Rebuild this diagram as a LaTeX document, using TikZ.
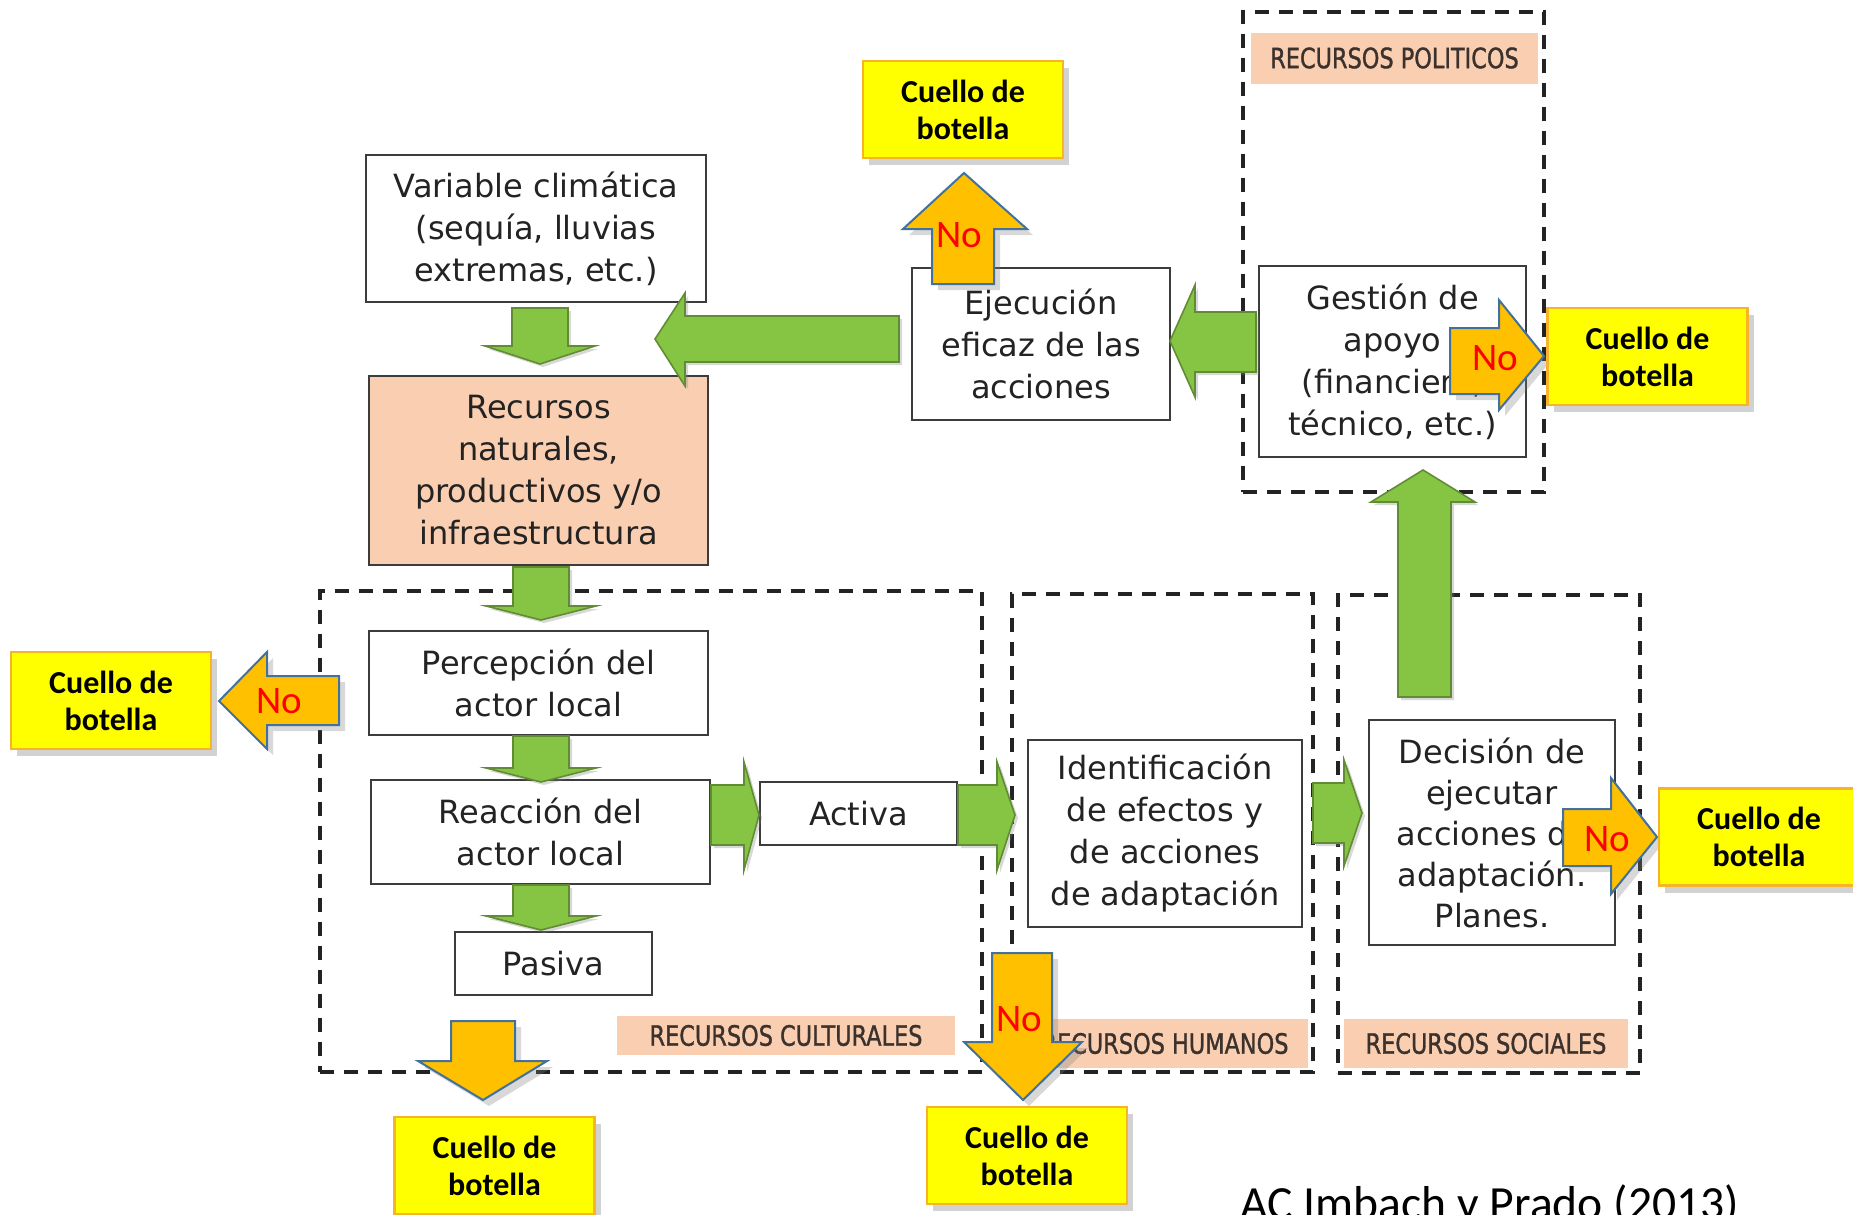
\documentclass[tikz,border=0pt]{standalone}
\usepackage{fontspec}
\setmainfont{DejaVu Sans}
\newfontfamily\bandfont{DejaVu Sans}[FakeStretch=0.8,FakeBold=1.2]
\newfontfamily\calfont{Carlito}
\usetikzlibrary{shadows}
\definecolor{boxgray}{RGB}{60,60,60}
\definecolor{txtgray}{RGB}{35,35,35}
\definecolor{dashgray}{RGB}{35,35,35}
\definecolor{bandpeach}{RGB}{250,206,176}
\definecolor{bandtext}{RGB}{60,50,45}
\definecolor{agreen}{RGB}{134,197,68}
\definecolor{agreendark}{RGB}{98,140,52}
\definecolor{aorange}{RGB}{255,192,0}
\definecolor{ablue}{RGB}{65,113,156}
\definecolor{cyellow}{RGB}{255,255,0}
\definecolor{cborder}{RGB}{247,180,40}
\begin{document}
\begin{tikzpicture}[x=0.5pt,y=-0.5pt,
  box/.style={draw=boxgray, line width=1.3pt, fill=white, inner sep=0pt, align=center,
    text=txtgray, font=\fontsize{16}{21}\selectfont},
  cuello/.style={draw=cborder, line width=1.2pt, fill=cyellow, inner sep=0pt,
    minimum width=100pt, minimum height=48.5pt, align=center,
    font=\calfont\bfseries\fontsize{16}{18.5}\selectfont,
    drop shadow={shadow xshift=3pt, shadow yshift=-3.5pt, opacity=0.35}},
  dashbox/.style={draw=dashgray, line width=2pt, dash pattern=on 7pt off 5pt, inner sep=0pt},
  band/.style={fill=bandpeach, inner sep=0pt, font=\bandfont\fontsize{14}{14}\selectfont, text=bandtext},
  garrow/.style={fill=agreen, draw=agreendark, line width=0.8pt, line join=miter,
    drop shadow={shadow xshift=1.5pt, shadow yshift=-1.5pt, opacity=0.3}},
  oarrow/.style={fill=aorange, draw=ablue, line width=1pt, line join=miter,
    drop shadow={shadow xshift=3pt, shadow yshift=-3pt, opacity=0.3}},
  notext/.style={text=red, font=\calfont\fontsize{19.5}{19.5}\selectfont, inner sep=0pt}
]
\useasboundingbox[fill=white] (0,0) rectangle (1853,1215);

% resource groups
\node[dashbox, minimum width=331pt, minimum height=240.5pt] (gcult) at (651,831.5) {};
\node[dashbox, minimum width=150.5pt, minimum height=239pt] (ghum) at (1162.5,833) {};
\node[dashbox, minimum width=151pt, minimum height=239pt] (gsoc) at (1489,834) {};
\node[dashbox, minimum width=150.5pt, minimum height=240pt] (gpol) at (1393.5,252) {};

\node[band, minimum width=143.5pt, minimum height=25.5pt] (bpol) at (1394.5,58) {RECURSOS POLITICOS};
\node[band, minimum width=169pt, minimum height=19.5pt] (bcult) at (786,1035.5) {RECURSOS CULTURALES};
\node[band, minimum width=143pt, minimum height=24.5pt] (bhum) at (1165,1043.5) {RECURSOS HUMANOS};
\node[band, minimum width=142pt, minimum height=24.5pt] (bsoc) at (1486,1043.5) {RECURSOS SOCIALES};

% main boxes
\node[box, minimum width=170pt, minimum height=73.5pt] (var) at (536,228.5)
  {Variable climática\\(sequía, lluvias\\extremas, etc.)};
\node[box, fill=bandpeach, minimum width=169.5pt, minimum height=94.5pt] (rec) at (538.5,470.5)
  {Recursos\\naturales,\\productivos y/o\\infraestructura};
\node[box, minimum width=129pt, minimum height=76pt] (eje) at (1041,344)
  {Ejecución\\eficaz de las\\acciones};
\node[box, minimum width=133.5pt, minimum height=95.5pt] (ges) at (1392.5,361.5)
  {Gestión de\\apoyo\\(financiero,\\técnico, etc.)};
\node[box, minimum width=169.5pt, minimum height=52pt] (per) at (538.5,683)
  {Percepción del\\actor local};
\node[box, minimum width=169.5pt, minimum height=52pt] (rea) at (540.5,832)
  {Reacción del\\actor local};
\node[box, minimum width=98.5pt, minimum height=31.5pt] (pas) at (553.5,963.5) {Pasiva};
\node[box, minimum width=98.5pt, minimum height=31.5pt] (act) at (858.5,813.5) {Activa};
\node[box, minimum width=137pt, minimum height=93.5pt] (ide) at (1165,833.5)
  {Identificación\\de efectos y\\de acciones\\de adaptación};
\node[box, font=\fontsize{16}{20.5}\selectfont, minimum width=123pt, minimum height=112.5pt] (dec) at (1492,832.5)
  {Decisión de\\ejecutar\\acciones de\\adaptación.\\Planes.};

% green block arrows
\draw[garrow] (512,308) -- (568,308) -- (568,346) -- (595,346) -- (540,364) -- (485,346) -- (512,346) -- cycle;
\draw[garrow] (513,567) -- (569,567) -- (569,606) -- (596,606) -- (541,620) -- (486,606) -- (513,606) -- cycle;
\draw[garrow] (513,736) -- (569,736) -- (569,768) -- (596,768) -- (541,782) -- (486,768) -- (513,768) -- cycle;
\draw[garrow] (513,885) -- (569,885) -- (569,916) -- (596,916) -- (541,930) -- (486,916) -- (513,916) -- cycle;
\draw[garrow] (711,785) -- (744,785) -- (744,762) -- (759,815) -- (744,870) -- (744,845) -- (711,845) -- cycle;
\draw[garrow] (958,785) -- (997,785) -- (997,762) -- (1015,815) -- (997,870) -- (997,845) -- (958,845) -- cycle;
\draw[garrow] (1313,783) -- (1344,783) -- (1344,760) -- (1362,813) -- (1344,866) -- (1344,843) -- (1313,843) -- cycle;
\draw[garrow] (899,316) -- (685,316) -- (685,293) -- (655,339) -- (685,386) -- (685,362) -- (899,362) -- cycle;
\draw[garrow] (1256,312) -- (1195,312) -- (1195,285) -- (1170,341) -- (1195,397) -- (1195,372) -- (1256,372) -- cycle;
\draw[garrow] (1398,697) -- (1398,502) -- (1371,502) -- (1423,470) -- (1475,502) -- (1451,502) -- (1451,697) -- cycle;

% orange "No" arrows
\draw[oarrow] (932,284) -- (932,229) -- (903,229) -- (964,173) -- (1027,229) -- (994,229) -- (994,284) -- cycle;
\draw[oarrow] (339,676) -- (267,676) -- (267,652) -- (219,701) -- (267,749) -- (267,725) -- (339,725) -- cycle;
\draw[oarrow] (1450,328) -- (1499,328) -- (1499,300) -- (1544,356) -- (1499,410) -- (1499,394) -- (1450,394) -- cycle;
\draw[oarrow] (1563,809) -- (1611,809) -- (1611,778) -- (1657,837) -- (1611,894) -- (1611,866) -- (1563,866) -- cycle;
\draw[oarrow] (992,953) -- (1052,953) -- (1052,1042) -- (1082,1042) -- (1023,1100) -- (964,1042) -- (992,1042) -- cycle;
\draw[oarrow] (451,1021) -- (515,1021) -- (515,1061) -- (547,1061) -- (483,1100) -- (418,1061) -- (451,1061) -- cycle;

\node[notext] (no1) at (959,235) {No};
\node[notext] (no2) at (279,701) {No};
\node[notext] (no3) at (1495,358) {No};
\node[notext] (no4) at (1607,839) {No};
\node[notext] (no5) at (1019,1019) {No};

% bottleneck boxes
\node[cuello] (cA) at (963,109.5) {Cuello de\\botella};
\node[cuello] (cB) at (1647.5,356.5) {Cuello de\\botella};
\node[cuello] (cC) at (111,700.5) {Cuello de\\botella};
\node[cuello] (cD) at (1759,837) {Cuello de\\botella};
\node[cuello] (cE) at (494.5,1165.5) {Cuello de\\botella};
\node[cuello] (cF) at (1027,1155.5) {Cuello de\\botella};

\node[anchor=base west, inner sep=0pt, font=\calfont\fontsize{23.8}{23.8}\selectfont] (cite) at (1240,1219) {AC Imbach y Prado (2013)};
\end{tikzpicture}
\end{document}
